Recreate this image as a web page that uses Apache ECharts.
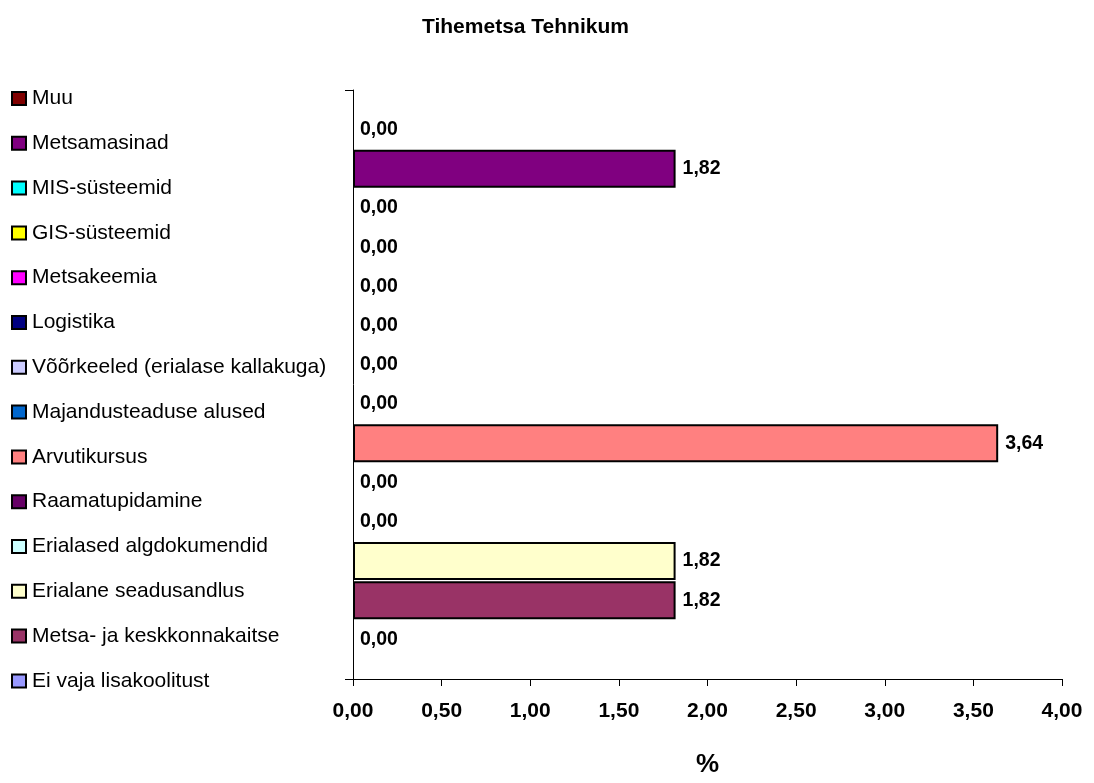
<!DOCTYPE html>
<html>
<head>
<meta charset="utf-8">
<script src="https://cdn.jsdelivr.net/npm/echarts@6/dist/echarts.min.js"></script>
<style>
  html, body { margin: 0; padding: 0; background: #fff; }
  #main { width: 1094px; height: 783px; }
</style>
</head>
<body>
<div id="main"></div>
<script>
// kategooriad alt üles (nagu Exceli joonisel)
const names = [
  'Ei vaja lisakoolitust',
  'Metsa- ja keskkonnakaitse',
  'Erialane seadusandlus',
  'Erialased algdokumendid',
  'Raamatupidamine',
  'Arvutikursus',
  'Majandusteaduse alused',
  'Võõrkeeled (erialase kallakuga)',
  'Logistika',
  'Metsakeemia',
  'GIS-süsteemid',
  'MIS-süsteemid',
  'Metsamasinad',
  'Muu'
];
// protsendid
const values = [0, 1.82, 1.82, 0, 0, 3.64, 0, 0, 0, 0, 0, 0, 1.82, 0];
const colors = [
  '#9999FF', '#993366', '#FFFFCC', '#CCFFFF', '#660066', '#FF8080', '#0066CC',
  '#CCCCFF', '#000080', '#FF00FF', '#FFFF00', '#00FFFF', '#800080', '#800000'
];

const font = 'Liberation Sans, Arial, sans-serif';
const fmt = function (v) { return Number(v).toFixed(2).replace('.', ','); };

let chart = echarts.init(document.getElementById('main'));

// iga kategooria on oma seeria, ribad samas kohas
let series = names.map(function (name, i) {
  return {
    name: name,
    type: 'bar',
    xAxisIndex: 1,
    yAxisIndex: 1,
    barGap: '-100%',
    barWidth: 38,
    // nullväärtusel pole raami (muidu tekib telje peale paks joon)
    itemStyle: { color: colors[i], borderColor: '#000', borderWidth: values[i] > 0 ? 2 : 0 },
    label: {
      show: true,
      position: 'right',
      distance: 7,
      color: '#000',
      fontFamily: font,
      fontWeight: 'bold',
      fontSize: 19.5,
      formatter: function (p) { return fmt(p.value); }
    },
    data: names.map(function (n, j) { return j === i ? values[i] : '-'; })
  };
});

chart.setOption({
  animation: false,
  backgroundColor: '#fff',
  title: {
    text: 'Tihemetsa Tehnikum',
    left: 422,
    top: 17,
    padding: 0,
    textStyle: { fontFamily: font, fontWeight: 'bold', fontSize: 21, color: '#000' }
  },
  legend: {
    orient: 'vertical',
    left: 11,
    top: 88,
    padding: 0,
    itemWidth: 14,
    itemHeight: 13,
    itemGap: 23.8,
    icon: 'rect',
    data: names.slice().reverse(),
    itemStyle: { borderColor: '#000', borderWidth: 2 },
    textStyle: { fontFamily: font, fontSize: 21, color: '#000', padding: [0, 0, 0, 1] }
  },
  grid: [
    { left: 353, right: 32, top: 90, bottom: 103 },
    { left: 353, right: 32, top: 110, height: 549 }
  ],
  xAxis: [
    {
      gridIndex: 0,
      type: 'value',
      min: 0,
      max: 4,
      interval: 0.5,
      name: '%',
      nameLocation: 'middle',
      nameGap: 73,
      nameTextStyle: { fontFamily: font, fontWeight: 'bold', fontSize: 26, color: '#000', verticalAlign: 'top' },
      axisLine: { show: true, lineStyle: { color: '#000', width: 1 } },
      axisTick: { show: true, length: 7, lineStyle: { color: '#000' } },
      splitLine: { show: false },
      axisLabel: {
        margin: 22,
        fontFamily: font,
        fontWeight: 'bold',
        fontSize: 21,
        color: '#000',
        formatter: fmt
      }
    },
    {
      gridIndex: 1,
      type: 'value',
      min: 0,
      max: 4,
      show: false
    }
  ],
  yAxis: [
    {
      gridIndex: 0,
      type: 'value',
      min: 0,
      max: 1,
      interval: 1,
      axisLine: { show: true, lineStyle: { color: '#000', width: 1 } },
      axisTick: { show: true, length: 8, lineStyle: { color: '#000' } },
      axisLabel: { show: false },
      splitLine: { show: false }
    },
    {
      gridIndex: 1,
      type: 'category',
      data: names,
      show: false
    }
  ],
  series: series
});
</script>
</body>
</html>
